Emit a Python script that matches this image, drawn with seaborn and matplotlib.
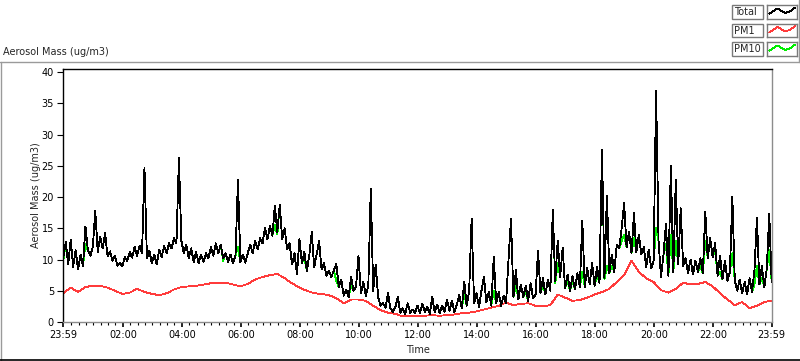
import numpy as np
import matplotlib
matplotlib.use("Agg")
import matplotlib.pyplot as plt
import seaborn as sns
from matplotlib.patches import Rectangle
from matplotlib.lines import Line2D

# ---- data ----
# Total mass, one value every 5 minutes starting 23:59
total = [
    10.3, 12.8, 9.2, 13.2, 8.8, 11.5, 8.4, 10.8, 9.0, 15.3, 11.5, 10.6,
    12.0, 17.8, 11.2, 13.6, 11.8, 14.2, 10.5, 11.3, 9.8, 10.6, 9.0, 9.5,
    8.9, 10.4, 9.8, 11.2, 10.3, 12.0, 10.6, 12.2, 11.0, 24.7, 10.2, 11.4,
    9.4, 10.8, 9.2, 11.6, 10.4, 12.2, 11.0, 12.6, 11.8, 13.4, 12.6, 26.2,
    13.0, 11.0, 12.4, 10.2, 11.8, 9.6, 11.2, 9.4, 10.8, 9.6, 11.0, 10.2,
    12.0, 10.6, 12.6, 11.0, 12.4, 10.2, 11.0, 9.6, 10.8, 9.4, 10.6, 22.7,
    9.6, 10.8, 9.5, 11.0, 12.4, 11.0, 13.0, 11.6, 13.4, 12.6, 15.0, 13.2,
    15.4, 13.8, 18.6, 14.4, 18.8, 13.2, 15.0, 11.6, 12.6, 9.2, 11.0, 7.6,
    13.3, 9.4, 11.2, 8.2, 10.6, 14.4, 8.8, 10.8, 13.0, 8.4, 9.4, 7.4,
    8.2, 7.2, 8.3, 9.3, 5.6, 6.8, 4.2, 5.2, 4.0, 7.2, 5.0, 5.6,
    10.6, 4.6, 6.4, 4.2, 5.8, 21.3, 5.0, 9.2, 4.0, 2.6, 3.0, 2.3,
    4.6, 2.2, 1.6, 2.4, 4.0, 1.5, 2.2, 1.3, 3.0, 1.5, 2.0, 1.4,
    2.6, 1.4, 2.9, 1.6, 2.4, 1.3, 4.0, 1.6, 2.8, 1.4, 2.6, 1.6,
    3.6, 1.8, 3.4, 1.6, 2.8, 4.3, 2.2, 6.5, 2.6, 5.0, 16.5, 3.0,
    4.6, 2.4, 5.0, 7.2, 3.2, 4.8, 2.6, 10.5, 3.0, 4.8, 2.6, 4.2,
    3.0, 10.0, 16.5, 4.0, 8.3, 3.6, 6.0, 4.0, 5.8, 3.4, 6.2, 3.8,
    4.4, 11.4, 4.6, 7.0, 4.4, 6.8, 5.0, 17.9, 6.6, 13.0, 7.2, 11.9,
    5.4, 7.6, 5.0, 7.4, 5.2, 7.8, 5.6, 16.2, 5.6, 8.6, 6.0, 9.4,
    5.8, 8.8, 6.2, 27.5, 7.0, 20.2, 7.8, 10.8, 8.0, 12.4, 11.8, 15.0,
    19.0, 12.0, 14.4, 11.0, 17.4, 11.2, 14.0, 10.8, 12.0, 8.8, 11.6, 8.6,
    9.8, 37.0, 13.0, 7.2, 10.8, 15.7, 7.4, 25.0, 8.0, 22.7, 9.2, 18.2,
    9.0, 10.2, 7.8, 10.0, 7.6, 9.8, 8.0, 10.2, 7.8, 17.6, 10.2, 13.4,
    10.4, 12.6, 7.4, 10.6, 6.8, 9.8, 6.6, 8.0, 20.0, 6.6, 5.0, 6.8,
    4.6, 6.4, 4.4, 7.0, 4.8, 8.4, 16.7, 6.0, 9.0, 5.6, 8.6, 17.3, 6.4,
]

# PM10, same 5 minute steps
pm10 = [
    9.8, 12.8, 9.2, 13.2, 8.8, 11.5, 8.4, 10.8, 9.0, 12.5, 11.5, 10.6,
    12.0, 17.8, 11.2, 13.6, 11.8, 14.2, 10.5, 11.3, 9.8, 10.6, 9.0, 9.5,
    8.9, 10.4, 9.8, 11.2, 10.3, 12.0, 10.6, 12.2, 11.0, 24.7, 10.2, 11.4,
    9.4, 10.8, 9.2, 11.6, 10.4, 12.2, 11.0, 12.6, 11.8, 13.4, 12.6, 26.2,
    13.0, 11.0, 12.4, 10.2, 11.8, 9.6, 11.2, 9.4, 10.8, 9.6, 11.0, 10.2,
    12.0, 10.6, 12.6, 11.0, 12.4, 9.8, 11.0, 9.6, 10.8, 9.4, 10.6, 12.0,
    9.6, 10.8, 9.5, 11.0, 12.4, 11.0, 13.0, 11.6, 13.4, 12.6, 15.0, 13.2,
    15.4, 13.8, 15.5, 14.0, 18.8, 13.2, 15.0, 11.6, 12.6, 9.2, 11.0, 7.6,
    13.3, 9.4, 10.4, 8.2, 10.6, 14.4, 8.8, 10.8, 13.0, 8.4, 9.4, 7.4,
    8.2, 7.2, 8.3, 6.5, 5.6, 6.8, 4.2, 5.2, 4.0, 5.8, 5.0, 5.6,
    10.6, 4.6, 6.4, 4.2, 5.8, 21.3, 5.0, 9.2, 4.0, 2.6, 3.0, 2.3,
    4.6, 2.2, 1.6, 2.4, 4.0, 1.5, 2.2, 1.3, 3.0, 1.5, 2.0, 1.4,
    2.6, 1.4, 2.9, 1.6, 2.4, 1.3, 4.0, 1.6, 2.8, 1.4, 2.6, 1.6,
    3.6, 1.8, 3.4, 1.6, 2.8, 4.3, 2.2, 4.5, 2.6, 5.0, 16.5, 3.0,
    4.6, 2.4, 5.0, 7.2, 3.2, 4.8, 2.6, 5.0, 3.0, 4.8, 2.6, 4.2,
    3.0, 10.0, 16.5, 4.0, 6.0, 3.6, 6.0, 4.0, 4.8, 3.4, 6.2, 3.8,
    4.4, 11.4, 4.6, 6.0, 4.4, 6.8, 5.0, 17.9, 6.2, 9.5, 7.2, 11.9,
    5.4, 6.6, 5.0, 6.6, 5.2, 7.8, 5.6, 8.0, 5.6, 8.6, 6.0, 9.4,
    5.8, 7.5, 6.2, 27.5, 6.8, 9.0, 7.8, 9.0, 8.0, 12.4, 11.8, 13.0,
    14.0, 12.0, 14.4, 11.0, 13.5, 11.2, 14.0, 10.8, 12.0, 8.8, 11.6, 8.6,
    9.8, 15.0, 13.0, 7.2, 10.8, 12.5, 7.4, 14.0, 8.0, 13.0, 9.2, 18.2,
    9.0, 10.2, 7.8, 10.0, 7.6, 9.8, 8.0, 9.0, 7.8, 13.0, 10.2, 13.4,
    10.4, 11.6, 7.4, 8.0, 6.8, 9.8, 6.6, 8.0, 11.0, 6.6, 5.0, 6.8,
    4.6, 6.4, 4.4, 7.0, 4.8, 6.0, 9.0, 6.0, 7.0, 5.6, 8.6, 11.5, 6.4,
]

# PM1, one value every 15 minutes starting 23:59
pm1 = [
    4.6, 5.5, 4.8, 5.6, 5.8, 5.8, 5.5, 5.0, 4.5, 4.7, 5.3, 4.8,
    4.5, 4.3, 4.6, 5.2, 5.6, 5.7, 5.8, 6.0, 6.2, 6.3, 6.3, 6.0,
    5.7, 6.1, 6.8, 7.2, 7.5, 7.7, 7.0, 6.2, 5.5, 5.0, 4.6, 4.5,
    4.3, 3.8, 3.0, 3.6, 3.6, 3.4, 2.6, 1.9, 1.5, 1.3, 0.9, 0.9,
    0.9, 1.0, 1.1, 1.0, 1.1, 1.2, 1.4, 1.5, 1.7, 2.0, 2.3, 2.6,
    3.1, 2.7, 2.9, 3.0, 2.6, 2.5, 2.7, 4.4, 3.9, 3.4, 3.5, 3.9,
    4.4, 4.8, 5.3, 6.4, 7.5, 9.8, 8.0, 7.0, 6.4, 5.1, 4.7, 5.3,
    6.3, 6.0, 6.1, 6.4, 5.7, 4.6, 3.6, 2.7, 3.2, 2.2, 2.6, 3.2,
    3.4,
]

tick_labels = ["23:59", "02:00", "04:00", "06:00", "08:00", "10:00", "12:00",
               "14:00", "16:00", "18:00", "20:00", "22:00", "23:59"]
tick_minutes = [0, 121, 241, 361, 481, 601, 721, 841, 961, 1081, 1201, 1321, 1440]

legend_names = ["Total", "PM1", "PM10"]
legend_colors = ["black", "#ff3b3b", "#00ee00"]

t_total = np.arange(len(total)) * 5
t_pm10 = np.arange(len(pm10)) * 5
t_pm1 = np.arange(len(pm1)) * 15

W, H = 800, 361


def fx(x):
    return x / W


def fy(y):
    return 1 - y / H


sns.set_style("white")
plt.rcParams["font.family"] = ["DejaVu Sans"]
plt.rcParams["font.size"] = 7

fig = plt.figure(figsize=(8, 3.61), dpi=100)
ax = fig.add_axes([fx(63.3), fy(322), (771.7 - 63.3) / W, (322 - 69) / H])

sns.lineplot(x=t_pm10, y=pm10, ax=ax, color=legend_colors[2], lw=0.6,
             estimator=None, antialiased=False)
sns.lineplot(x=t_pm1, y=pm1, ax=ax, color=legend_colors[1], lw=0.6,
             estimator=None, antialiased=False)
sns.lineplot(x=t_total, y=total, ax=ax, color=legend_colors[0], lw=0.6,
             estimator=None, antialiased=False)

ax.set_xlim(0, 1440)
ax.set_ylim(0, 40.5)
ax.set_yticks(range(0, 41, 5))
ax.set_xticks(tick_minutes)
ax.set_xticklabels(tick_labels)
minor = [m for m in range(16, 1440, 15) if (m - 1) % 120 != 0]
ax.set_xticks(minor, minor=True)

ax.tick_params(axis="y", direction="out", length=4.3, width=0.8, pad=2.4,
               labelsize=7, left=True, colors="black")
ax.tick_params(axis="x", which="major", direction="out", length=3.6, width=1.2,
               pad=2.5, labelsize=7, bottom=True, colors="black")
ax.tick_params(axis="x", which="minor", direction="out", length=2.0, width=0.8,
               bottom=True, color="black")

for side in ["left", "top"]:
    ax.spines[side].set_color("black")
    ax.spines[side].set_linewidth(1.0)
for side in ["bottom", "right"]:
    ax.spines[side].set_color("#8c8c8c")
    ax.spines[side].set_linewidth(1.0)

ax.set_xlabel("Time", fontsize=7)
ax.xaxis.set_label_coords(0.5, (322 - 345) / 253)
ax.set_ylabel("Aerosol Mass (ug/m3)", fontsize=7)
ax.yaxis.set_label_coords((41 - 63.3) / 708.4, 0.5)

# title at top left
fig.text(fx(3), fy(52), "Aerosol Mass (ug/m3)", fontsize=7, va="center", ha="left")

# outer frame lines
fig.add_artist(Line2D([0, 1], [fy(61.5), fy(61.5)], color="#9a9a9a", lw=1))
fig.add_artist(Line2D([fx(0.5), fx(0.5)], [fy(61.5), 0], color="#9a9a9a", lw=1))
fig.add_artist(Line2D([0, 1], [fy(360), fy(360)], color="black", lw=1.2))
fig.add_artist(Line2D([fx(799), fx(799)], [1, fy(61.5)], color="#9a9a9a", lw=1))

# legend boxes
row_tops = [5, 23.5, 42]
zig_x = [0.08, 0.35, 0.6, 0.78, 0.94]
zig_y = [0.35, 0.75, 0.4, 0.55, 0.82]
for name, col, top in zip(legend_names, legend_colors, row_tops):
    fig.add_artist(Rectangle((fx(732), fy(top + 13.5)), 31 / W, 13.5 / H,
                             transform=fig.transFigure, fill=False,
                             ec="#7a7a7a", lw=1))
    fig.text(fx(734), fy(top + 7), name, fontsize=7, va="center", ha="left")
    sax = fig.add_axes([fx(767), fy(top + 13.5), 30 / W, 13.5 / H])
    sax.plot(zig_x, zig_y, color=col, lw=0.6, antialiased=False)
    sax.set_xlim(0, 1)
    sax.set_ylim(0, 1)
    sax.set_xticks([])
    sax.set_yticks([])
    for s in sax.spines.values():
        s.set_color("#7a7a7a")
        s.set_linewidth(1)

fig.savefig("out.png", dpi=100)
